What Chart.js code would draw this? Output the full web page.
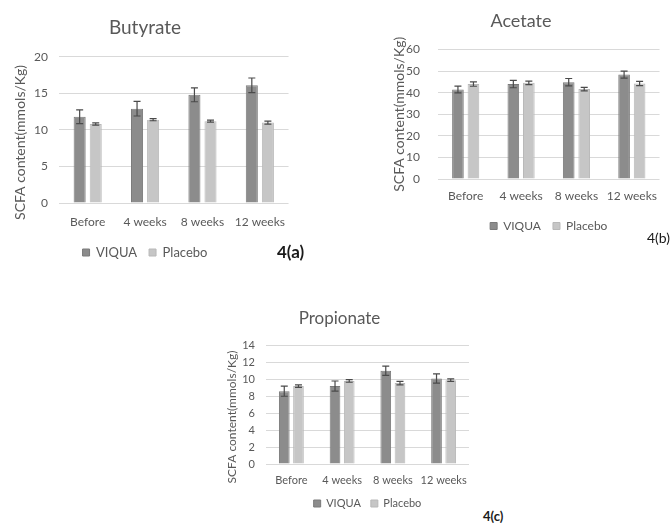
<!DOCTYPE html>
<html>
<head>
<meta charset="utf-8">
<script src="https://cdn.jsdelivr.net/npm/chart.js@4"></script>
<style>
  body { margin: 0; background: #fff; }
  #page { position: relative; width: 670px; height: 523px; overflow: hidden; font-family: Lato, sans-serif; }
  .box { position: absolute; }
  .tag { position: absolute; color: #1a1a1a; white-space: nowrap; line-height: 1; }
</style>
</head>
<body>
<div id="page">
  <div class="box" style="left:0;top:0;width:298px;height:269px"><canvas id="chartA"></canvas></div>
  <div class="box" style="left:382px;top:0;width:286px;height:242px"><canvas id="chartB"></canvas></div>
  <div class="box" style="left:210px;top:290px;width:270px;height:229px"><canvas id="chartC"></canvas></div>
  <div class="tag" style="left:277px;top:243px;font-size:17px;font-weight:700">4(a)</div>
  <div class="tag" style="left:647px;top:231px;font-size:14px">4(b)</div>
  <div class="tag" style="left:483px;top:510px;font-size:13px;font-weight:700">4(c)</div>
</div>
<script>
// Data
const categories = ['Before', '4 weeks', '8 weeks', '12 weeks'];
const seriesNames = ['VIQUA', 'Placebo'];

const butyrateViqua = [11.8, 12.9, 14.8, 16.1];
const butyrateViquaErr = [0.95, 1.0, 0.95, 1.0];
const butyratePlacebo = [10.8, 11.4, 11.2, 11.0];
const butyratePlaceboErr = [0.15, 0.15, 0.15, 0.2];

const acetateViqua = [41.5, 44.0, 44.9, 48.4];
const acetateViquaErr = [1.6, 1.7, 1.7, 1.6];
const acetatePlacebo = [44.0, 44.6, 41.7, 44.3];
const acetatePlaceboErr = [1.0, 0.8, 0.8, 1.0];

const propionateViqua = [8.6, 9.2, 11.0, 10.1];
const propionateViquaErr = [0.6, 0.6, 0.55, 0.55];
const propionatePlacebo = [9.2, 9.8, 9.55, 9.9];
const propionatePlaceboErr = [0.15, 0.15, 0.2, 0.15];

const yTitle = 'SCFA content(mmols/Kg)';
const textColor = '#595959';
const gridColor = '#d9d9d9';

Chart.defaults.font.family = 'Lato, sans-serif';
Chart.defaults.color = textColor;

// draws the +/- error whiskers on top of each bar
const errorBars = {
    id: 'errorBars',
    afterDatasetsDraw(chart) {
        const ctx = chart.ctx;
        const y = chart.scales.y;
        chart.data.datasets.forEach((ds, i) => {
            chart.getDatasetMeta(i).data.forEach((bar, j) => {
                const top = y.getPixelForValue(ds.data[j] + ds.errors[j]);
                const bot = y.getPixelForValue(ds.data[j] - ds.errors[j]);
                ctx.save();
                ctx.strokeStyle = '#4a4a4a';
                ctx.lineWidth = 1.2;
                ctx.beginPath();
                ctx.moveTo(bar.x, top); ctx.lineTo(bar.x, bot);
                ctx.moveTo(bar.x - 3.5, top); ctx.lineTo(bar.x + 3.5, top);
                ctx.moveTo(bar.x - 3.5, bot); ctx.lineTo(bar.x + 3.5, bot);
                ctx.stroke();
                ctx.restore();
            });
        });
    }
};

function makeChart(id, o) {
    const ctx = document.getElementById(id).getContext('2d');
    return new Chart(ctx, {
        type: 'bar',
        data: {
            labels: categories,
            datasets: [{
                label: seriesNames[0],
                data: o.viqua,
                errors: o.viquaErr,
                backgroundColor: '#8c8c8c',
                borderColor: '#7a7a7a',
                borderWidth: 1
            }, {
                label: seriesNames[1],
                data: o.placebo,
                errors: o.placeboErr,
                backgroundColor: '#c6c6c6',
                borderColor: '#b8b8b8',
                borderWidth: 1
            }]
        },
        options: {
            responsive: true,
            maintainAspectRatio: false,
            animation: false,
            categoryPercentage: 0.56,
            barPercentage: 0.75,
            layout: { padding: { left: 0, right: o.padRight, top: 0, bottom: 0 } },
            plugins: {
                title: {
                    display: true,
                    text: o.title,
                    color: textColor,
                    font: { size: o.titleSize, weight: 'normal' },
                    padding: { top: o.titleTop, bottom: o.titleBottom }
                },
                legend: {
                    position: 'bottom',
                    fullSize: o.legendFull,
                    labels: {
                        boxWidth: 7,
                        boxHeight: 7,
                        padding: o.legendPad,
                        color: textColor,
                        font: { size: o.legendSize }
                    }
                },
                tooltip: { enabled: false }
            },
            scales: {
                x: {
                    grid: { display: false, drawTicks: false },
                    border: { display: false },
                    ticks: {
                        color: textColor, font: { size: o.tickSize }, padding: o.xPad,
                        maxRotation: 0, minRotation: 0, autoSkip: false
                    },
                    afterFit: s => { s.height = o.xHeight; }
                },
                y: {
                    min: 0,
                    max: o.max,
                    ticks: { stepSize: o.step, color: textColor, font: { size: o.tickSize }, padding: o.yPad },
                    grid: { color: gridColor, drawTicks: false },
                    border: { display: false },
                    title: {
                        display: true,
                        text: yTitle + o.titleShift,
                        color: textColor,
                        font: { size: o.axisTitleSize },
                        padding: { top: o.axisTitlePad, bottom: 0 }
                    },
                    afterFit: s => { s.width = o.yWidth; }
                }
            }
        },
        plugins: [errorBars]
    });
}

makeChart('chartA', {
    title: 'Butyrate', viqua: butyrateViqua, viquaErr: butyrateViquaErr,
    placebo: butyratePlacebo, placeboErr: butyratePlaceboErr,
    max: 20, step: 5, padRight: 8, yWidth: 59, yPad: 11, xPad: 12, xHeight: 31,
    titleSize: 19, titleTop: 16, titleBottom: 18, tickSize: 12, legendSize: 13, legendPad: 12,
    axisTitleSize: 14, axisTitlePad: 12, titleShift: '       ', legendFull: true
});

makeChart('chartB', {
    title: 'Acetate', viqua: acetateViqua, viquaErr: acetateViquaErr,
    placebo: acetatePlacebo, placeboErr: acetatePlaceboErr,
    max: 60, step: 10, padRight: 8, yWidth: 56, yPad: 18, xPad: 10, xHeight: 29,
    titleSize: 18, titleTop: 10, titleBottom: 18, tickSize: 12, legendSize: 12, legendPad: 12,
    axisTitleSize: 14, axisTitlePad: 9, titleShift: '', legendFull: false
});

makeChart('chartC', {
    title: 'Propionate', viqua: propionateViqua, viquaErr: propionateViquaErr,
    placebo: propionatePlacebo, placeboErr: propionatePlaceboErr,
    max: 14, step: 2, padRight: 11, yWidth: 56, yPad: 11, xPad: 10, xHeight: 24,
    titleSize: 17, titleTop: 18, titleBottom: 17, tickSize: 11, legendSize: 11, legendPad: 10,
    axisTitleSize: 12, axisTitlePad: 15, titleShift: '        ', legendFull: false
});
</script>
</body>
</html>
